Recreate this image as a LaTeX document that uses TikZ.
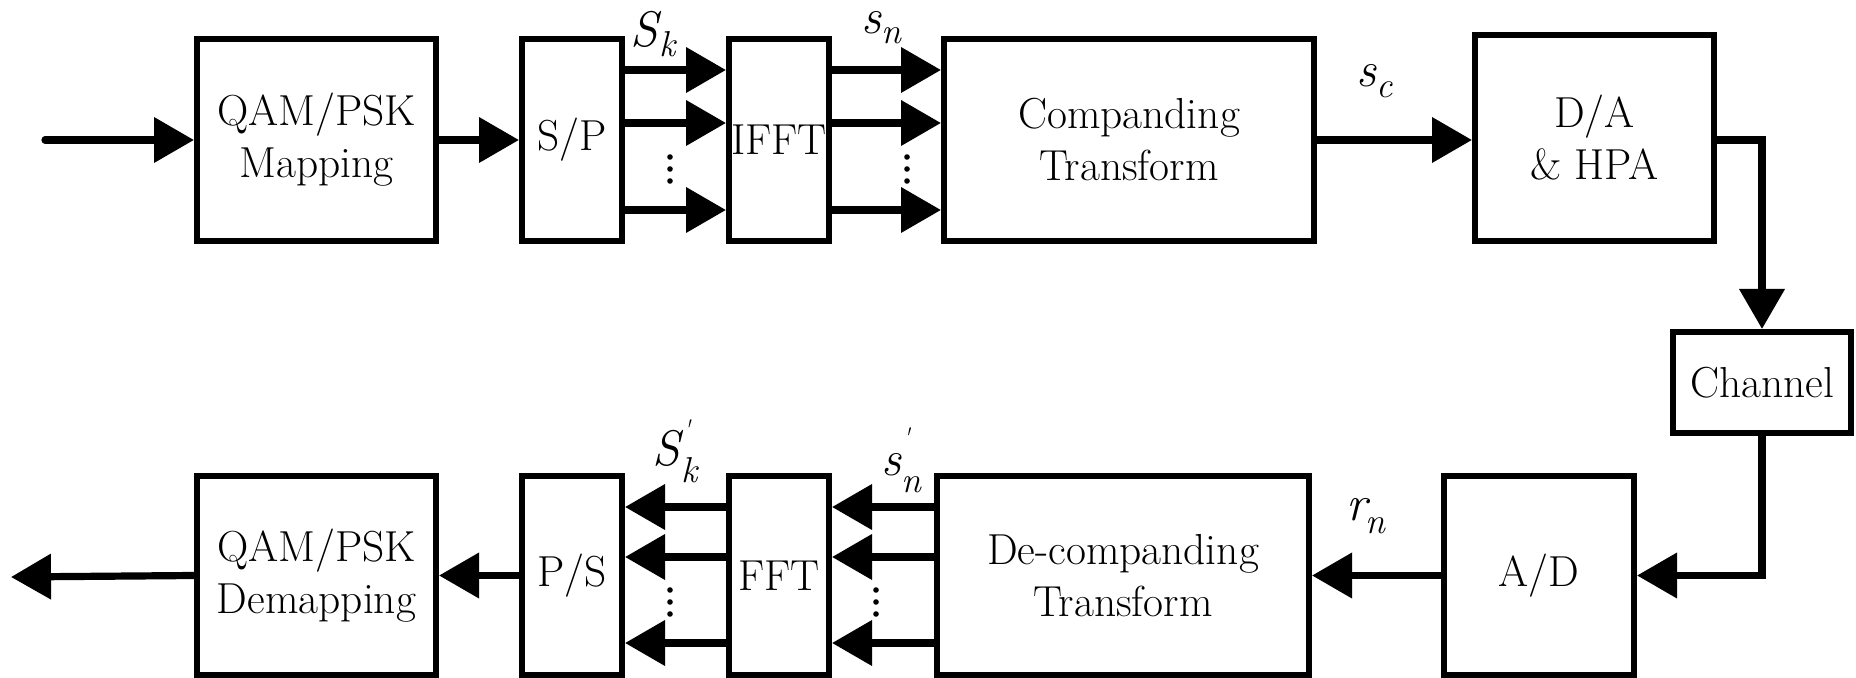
\documentclass[tikz,border=0pt]{standalone}
\usetikzlibrary{arrows.meta,calc}
\newcommand{\bodyfnt}{\fontsize{21.7}{26}\selectfont}
\newcommand{\lblfnt}{\fontsize{25}{25}\selectfont\itshape}
\newcommand{\subfnt}{\fontsize{18}{18}\selectfont\itshape}
\newcommand{\primefnt}{\fontsize{14}{14}\selectfont}
\begin{document}
\begin{tikzpicture}[x=0.5pt,y=-0.5pt,
  blk/.style={draw=black, line width=3pt, inner sep=0pt, align=center, font=\bodyfnt},
  arr/.style={line width=3.6pt, -{Triangle[length=20pt,width=22pt]}},
  lbl/.style={inner sep=0pt, anchor=base west, font=\lblfnt}]
\useasboundingbox (0,0) rectangle (1856,678);
% top row
\node[blk, minimum width=119.5pt, minimum height=101pt] (map) at (316.5,140) {QAM/PSK\\Mapping};
\node[blk, minimum width=50pt, minimum height=101pt] (sp) at (572,140) {S/P};
\node[blk, minimum width=50pt, minimum height=101pt] (ifft) at (779,140) {IFFT};
\node[blk, minimum width=185pt, minimum height=101pt] (comp) at (1129,140) {Companding\\Transform};
\node[blk, minimum width=119.5pt, minimum height=103pt] (da) at (1594.5,138) {D/A\\\& HPA};
\node[blk, minimum width=89pt, minimum height=50.5pt] (chan) at (1762,382.5) {Channel};
% bottom row
\node[blk, minimum width=119.5pt, minimum height=99.5pt] (demap) at (316.5,575.5) {QAM/PSK\\Demapping};
\node[blk, minimum width=50pt, minimum height=99.5pt] (ps) at (572,575.5) {P/S};
\node[blk, minimum width=50pt, minimum height=99.5pt] (fft) at (779,575.5) {FFT};
\node[blk, minimum width=186pt, minimum height=99.5pt] (decomp) at (1123,575.5) {De-companding\\Transform};
\node[blk, minimum width=95pt, minimum height=99.5pt] (ad) at (1539,575.5) {A/D};
% free ends
\coordinate (in) at (45,140);
\coordinate (out) at (11,577);
% connectors top
\draw[arr, line cap=round] (in) -- (map.west);
\draw[arr] (map.east) -- (sp.west);
\foreach \d in {35,8.5,-35} {
  \draw[arr] ([yshift=\d pt]sp.east) -- ([yshift=\d pt]ifft.west);
  \draw[arr] ([yshift=\d pt]ifft.east) -- ([yshift=\d pt]comp.west);
}
\draw[arr] (comp.east) -- (comp.east -| da.west);
\draw[arr] ([yshift=-1pt]da.east) -| (chan.north);
\draw[arr] (chan.south) |- (ad.east);
% connectors bottom
\draw[arr] (ad.west) -- (decomp.east);
\foreach \d in {34.25,9.25,-33.75} {
  \draw[arr] ([yshift=\d pt]decomp.west) -- ([yshift=\d pt]fft.east);
  \draw[arr] ([yshift=\d pt]fft.west) -- ([yshift=\d pt]ps.east);
}
\draw[arr] (ps.west) -- (demap.east);
\draw[arr] (demap.west) -- (out);
% vertical dots
\foreach \x/\y in {670/157, 907/157, 670/590, 876/590} {
  \foreach \k in {0,12,24} \fill (\x,\y+\k) circle (1.4pt);
}
% labels
\node[lbl] (lSk) at (630,47) {S\hspace{1pt}\raisebox{-5pt}{\subfnt k}};
\node[lbl] (lsn) at (861,34) {s\raisebox{-5pt}{\subfnt n}};
\node[lbl] (lsc) at (1356,87) {s\raisebox{-5.5pt}{\subfnt c}};
\node[lbl] (lSk2) at (652,465) {S\hspace{1pt}\rlap{\raisebox{13pt}{\primefnt\textquotesingle}}\raisebox{-8.5pt}{\subfnt k}};
\node[lbl] (lsn2) at (881,475) {s\rlap{\raisebox{14pt}{\primefnt\textquotesingle}}\raisebox{-8.5pt}{\subfnt n}};
\node[lbl] (lrn) at (1346,520) {r\hspace{-1pt}\raisebox{-6.5pt}{\subfnt n}};
\end{tikzpicture}
\end{document}
